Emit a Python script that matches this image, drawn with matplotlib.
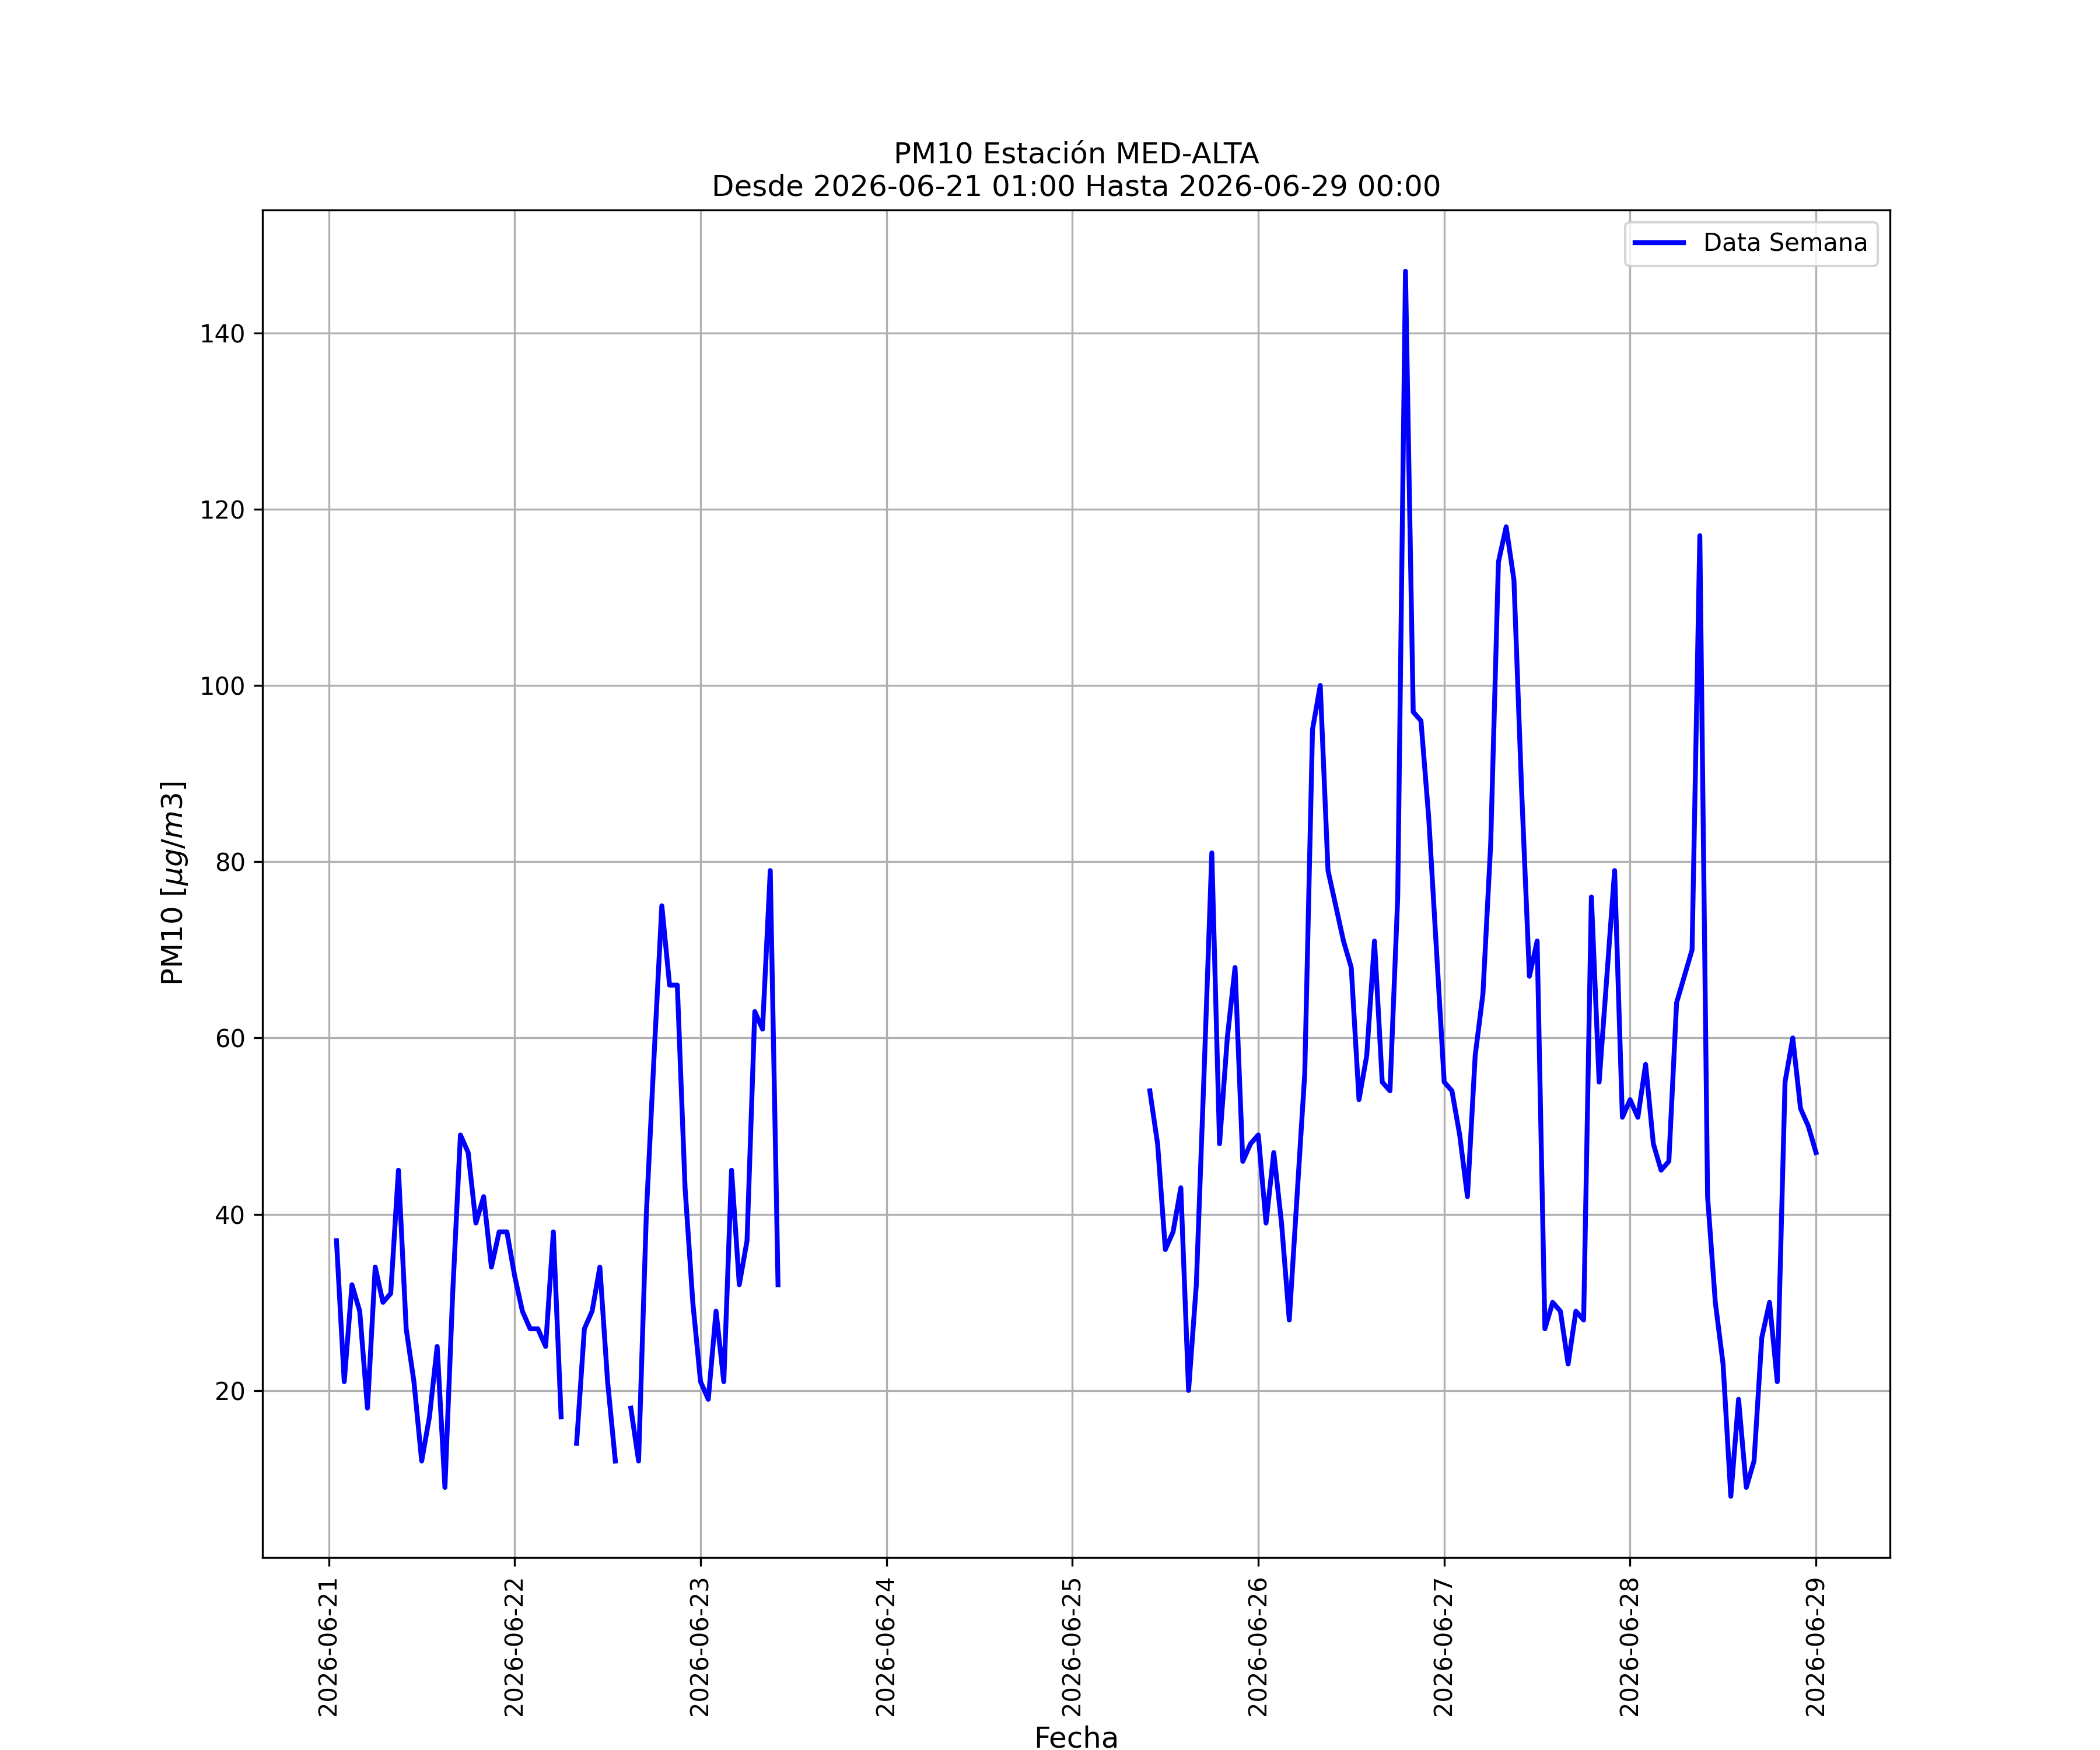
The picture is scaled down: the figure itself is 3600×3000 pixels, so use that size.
import numpy as np
import pandas as pd
import matplotlib
matplotlib.use("Agg")
import matplotlib.pyplot as plt
import matplotlib.dates as mdates

nan = np.nan

# Hourly PM10 values, 2026-06-21 01:00 .. 2026-06-29 00:00
day_21 = [37, 21, 32, 29, 18, 34, 30, 31, 45, 27, 21, 12, 17, 25, 9, 31, 49, 47, 39, 42, 34, 38, 38]  # 01h..23h
day_22 = [33, 29, 27, 27, 25, 38, 17, nan, 14, 27, 29, 34, 21, 12, nan, 18, 12, 40, 58, 75, 66, 66, 43, 30]
day_23 = [21, 19, 29, 21, 45, 32, 37, 63, 61, 79, 32] + [nan] * 13
day_24 = [nan] * 24
day_25 = [nan] * 10 + [54, 48, 36, 38, 43, 20, 32, 56, 81, 48, 60, 68, 46, 48]
day_26 = [49, 39, 47, 39, 28, 42, 56, 95, 100, 79, 75, 71, 68, 53, 58, 71, 55, 54, 76, 147, 97, 96, 85, 70]
day_27 = [55, 54, 49, 42, 58, 65, 82, 114, 118, 112, 88, 67, 71, 27, 30, 29, 23, 29, 28, 76, 55, 67, 79, 51]
day_28 = [53, 51, 57, 48, 45, 46, 64, 67, 70, 117, 42, 30, 23, 8, 19, 9, 12, 26, 30, 21, 55, 60, 52, 50]
day_29 = [47]  # 00h

valores = day_21 + day_22 + day_23 + day_24 + day_25 + day_26 + day_27 + day_28 + day_29
fecha_ini = "2026-06-21 01:00"
fecha_fin = "2026-06-29 00:00"
fechas = pd.date_range(fecha_ini, fecha_fin, freq="h")

df = pd.DataFrame({"Fecha": fechas, "PM10": valores})

plt.figure(figsize=(12, 10), dpi=300)
plt.plot(df["Fecha"], df["PM10"], color="blue", linewidth=2, label="Data Semana")

plt.title("PM10 Estación MED-ALTA\nDesde " + fecha_ini + " Hasta " + fecha_fin, fontsize=12)
plt.xlabel("Fecha", fontsize=12)
plt.ylabel("PM10 [$\\mu g/m3$]", fontsize=12)
ax = plt.gca()
ax.xaxis.set_major_locator(mdates.DayLocator())
ax.xaxis.set_major_formatter(mdates.DateFormatter("%Y-%m-%d"))
plt.xticks(rotation=90)
plt.grid(True)
plt.legend(loc="upper right")

plt.savefig("out.png", dpi=300)
